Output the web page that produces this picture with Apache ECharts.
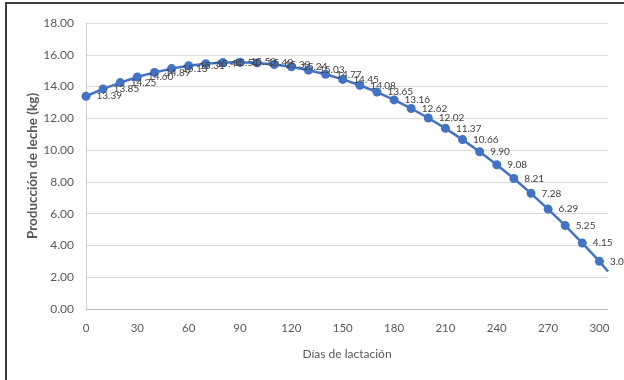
<!DOCTYPE html>
<html>
<head>
<meta charset="utf-8">
<script src="https://cdn.jsdelivr.net/npm/echarts@6/dist/echarts.min.js"></script>
<style>
  html, body { margin: 0; padding: 0; background: #ffffff; }
  #chart { width: 624px; height: 380px; }
</style>
</head>
<body>
<div id="chart"></div>
<script>
// Días de lactación (cada 10 días) y producción diaria de leche (kg)
const days = [0, 10, 20, 30, 40, 50, 60, 70, 80, 90, 100, 110, 120, 130, 140, 150,
  160, 170, 180, 190, 200, 210, 220, 230, 240, 250, 260, 270, 280, 290, 300];
const milkKg = [13.39, 13.85, 14.25, 14.60, 14.89, 15.13, 15.31, 15.44, 15.51, 15.53, 15.49,
  15.39, 15.24, 15.03, 14.77, 14.45, 14.08, 13.65, 13.16, 12.62, 12.02, 11.37,
  10.66, 9.90, 9.08, 8.21, 7.28, 6.29, 5.25, 4.15, 3.00];
// Prolongación de la curva hasta el borde del área de trazado
const tailDays = [300, 305];
const tailKg = [3.00, 2.36];

const xTicks = [0, 30, 60, 90, 120, 150, 180, 210, 240, 270, 300];
const yTicks = [0, 2, 4, 6, 8, 10, 12, 14, 16, 18];

const FONT = 'Lato, "Open Sans", sans-serif';
const BLUE = '#4472C4';

const chart = echarts.init(document.getElementById('chart'), null, { renderer: 'canvas' });

chart.setOption({
  animation: false,
  backgroundColor: '#ffffff',
  grid: { left: 86, right: 16, top: 23, bottom: 71, containLabel: false },
  graphic: [
    {
      type: 'polyline',
      shape: { points: [[6, 380], [6, 3], [624, 3]] },
      style: { stroke: '#3c3c3c', lineWidth: 2, fill: null },
      z: 10
    }
  ],
  xAxis: {
    type: 'value',
    min: xTicks[0],
    max: 305,
    interval: xTicks[1] - xTicks[0],
    name: 'Días de lactación',
    nameLocation: 'middle',
    nameGap: 39,
    nameMoveOverlap: false,
    nameTextStyle: { fontFamily: FONT, fontSize: 12, color: '#595959' },
    axisLine: { show: true, lineStyle: { color: '#bfbfbf', width: 1 } },
    axisTick: { show: false },
    splitLine: { show: false },
    axisLabel: {
      fontFamily: FONT, fontSize: 11.5, color: '#595959', margin: 13,
      showMaxLabel: false,
      formatter: v => (xTicks.indexOf(v) >= 0 ? String(v) : '')
    }
  },
  yAxis: {
    type: 'value',
    min: yTicks[0],
    max: yTicks[yTicks.length - 1],
    interval: yTicks[1] - yTicks[0],
    name: 'Producción de leche (kg)',
    nameLocation: 'middle',
    nameGap: 46,
    nameMoveOverlap: false,
    nameRotate: 90,
    nameTextStyle: { fontFamily: FONT, fontSize: 13.5, fontWeight: 'bold', color: '#595959' },
    axisLine: { show: true, lineStyle: { color: '#d0d0d0', width: 1 } },
    axisTick: { show: false },
    splitLine: { show: true, lineStyle: { color: '#d9d9d9', width: 1 } },
    axisLabel: {
      fontFamily: FONT, fontSize: 12, color: '#595959', margin: 12,
      formatter: v => v.toFixed(2)
    }
  },
  series: [
    {
      type: 'line',
      data: tailDays.map((d, i) => [d, tailKg[i]]),
      showSymbol: false,
      symbol: 'none',
      lineStyle: { color: BLUE, width: 2.5 },
      silent: true,
      z: 1
    },
    {
      type: 'line',
      data: days.map((d, i) => [d, milkKg[i]]),
      symbol: 'circle',
      symbolSize: 9,
      itemStyle: { color: BLUE },
      lineStyle: { color: BLUE, width: 2.5 },
      label: {
        show: true,
        position: 'right',
        distance: 6,
        fontFamily: FONT,
        fontSize: 10,
        color: '#404040',
        formatter: p => p.value[1].toFixed(2)
      },
      z: 2
    }
  ]
});
</script>
</body>
</html>
